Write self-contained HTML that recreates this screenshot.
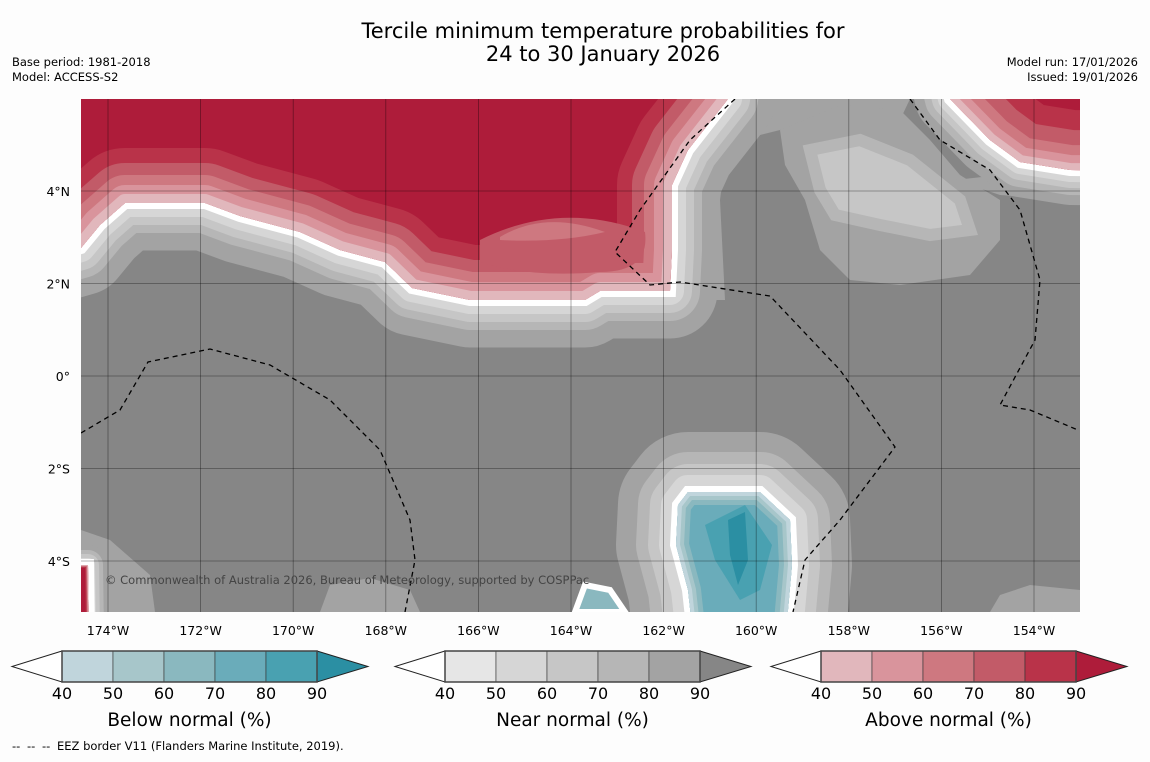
<!DOCTYPE html>
<html><head><meta charset="utf-8">
<style>
body{margin:0;background:#fdfdfd;font-family:"DejaVu Sans",sans-serif;}
svg text{font-family:"DejaVu Sans","Liberation Sans",sans-serif;}
</style></head>
<body>
<svg id="fig" width="1150" height="758" viewBox="0 0 1150 758" xmlns="http://www.w3.org/2000/svg">
<rect width="1150" height="758" fill="#fdfdfd"/>
<text x="603" y="38" font-size="21" text-anchor="middle">Tercile minimum temperature probabilities for</text>
<text x="603" y="61" font-size="21" text-anchor="middle">24 to 30 January 2026</text>
<text x="12" y="66" font-size="11.5">Base period: 1981-2018</text>
<text x="12" y="81" font-size="11.5">Model: ACCESS-S2</text>
<text x="1138" y="66" font-size="11.5" text-anchor="end">Model run: 17/01/2026</text>
<text x="1138" y="81" font-size="11.5" text-anchor="end">Issued: 19/01/2026</text>
<defs>
<clipPath id="mapclip"><rect x="81" y="99" width="999" height="513"/></clipPath>
</defs>
<g id="map" clip-path="url(#mapclip)"></g>
<g id="axes"></g>
<g id="cbars"></g>
<g font-size="11.5">
<text x="12" y="750">--</text><text x="27" y="750">--</text><text x="42" y="750">--</text>
<text x="57" y="750">EEZ border V11 (Flanders Marine Institute, 2019).</text>
</g>
</svg>
<script>
const NS="http://www.w3.org/2000/svg";
// axis data
const lonTicks=[-174,-172,-170,-168,-166,-164,-162,-160,-158,-156,-154];
const latTicks=[4,2,0,-2,-4];
const cbTicks=[40,50,60,70,80,90];
const blueColors=["#c0d5dc","#a7c6ca","#8ab8bf","#6aacba","#49a1b1","#2b8fa3"];
const grayColors=["#e6e6e6","#d6d6d6","#c6c6c6","#b6b6b6","#a3a3a3","#868686"];
const redColors=["#e1b7bc","#d9949c","#ce7880","#c25b68","#b93349","#ae1c3a"];
const cbTitles=["Below normal (%)","Near normal (%)","Above normal (%)"];
// contour geometry (map pixel space)
const redMain=[[-100,-100],[-100,300],[81,248],[100,225],[125,203],[205,203],[240,216],[300,232],[340,250],[385,262],[412,288],[470,300],[585,300],[600,291],[670,291],[672,250],[672,185],[688,150],[728,99],[760,-100]];
const redNE=[[900,-100],[950,99],[990,140],[1020,162],[1070,170],[1200,172],[1200,-100]];
const blueS=[[688,492],[760,492],[790,520],[792,565],[780,700],[700,700],[688,590],[676,545],[678,505]];
const pinkSW=[[-20,565],[88,565],[90,700],[-20,700]];
const eez=[
 [[81,433],[120,410],[148,362],[210,349],[270,365],[330,400],[380,450],[410,520],[415,560],[405,612]],
 [[735,99],[690,140],[640,210],[615,252],[650,285],[680,282],[770,296],[840,370],[895,447],[840,520],[805,560],[793,612]],
 [[910,99],[940,140],[990,170],[1020,210],[1040,280],[1035,340],[1000,405],[1030,410],[1078,430]]
];
const X=lon=>108+(lon+174)*46.3;
const Y=lat=>376-lat*46.25;
const map=document.getElementById('map');
function el(tag,attrs,parent){const e=document.createElementNS(NS,tag);for(const k in attrs)e.setAttribute(k,attrs[k]);(parent||map).appendChild(e);return e;}
const d=pts=>'M'+pts.map(p=>p.join(',')).join('L')+'Z';
const dl=pts=>'M'+pts.map(p=>p.join(',')).join('L');
let r=el('rect',{x:81,y:99,width:999,height:513,fill:'#868686'});


const patches=[
 [[700,99],[910,99],[900,120],[850,120],[800,125],[760,135],[725,160],[720,200],[725,300],[715,300],[700,260],[695,150]],
 [[780,130],[840,105],[900,110],[930,140],[960,175],[1000,200],[1000,240],[970,275],[900,285],[850,280],[820,250],[805,200],[785,165]],
 [[320,612],[330,585],[370,578],[410,590],[420,612]],
 [[990,612],[1000,595],[1030,585],[1080,590],[1080,612]],
 [[81,530],[110,540],[150,575],[155,612],[81,612]],
 [[955,180],[1000,175],[1080,190],[1080,200],[1000,195]]
];
patches.forEach(p=>{const e=el('path',{d:d(p),fill:'#a3a3a3'});

});
let lg=el('path',{d:d([[810,150],[860,140],[910,160],[960,200],[970,230],[930,235],[880,225],[835,215],[820,190]]),fill:'#c6c6c6',stroke:'#b6b6b6','stroke-width':12});


function banded(pts,outer,inner,id,widths,name){
 const g=el('g',{});
 
 
 const ow=widths.outer;
 outer.forEach((c,i)=>el('path',{d:d(pts),fill:c,stroke:c,'stroke-width':ow[i],'stroke-linejoin':'round'},g));
 el('path',{d:d(pts),fill:'#fff',stroke:'#fff','stroke-width':12,'stroke-linejoin':'miter'},g);
 const cp=el('clipPath',{id:id},g);el('path',{d:d(pts)},cp);
 const ig=el('g',{'clip-path':'url(#'+id+')'},g);
 el('path',{d:d(pts),fill:inner[5]},ig);
 const iw=widths.inner;
 for(let i=4;i>=0;i--)el('path',{d:d(pts),fill:'none',stroke:inner[i],'stroke-width':iw[4-i],'stroke-linejoin':'round'},ig);
 return ig;
}
banded(redMain,['#a3a3a3','#b6b6b6','#c6c6c6','#d6d6d6'],redColors,'c1',{outer:[95,60,44,28],inner:[110,80,56,36,18]},'above-normal-main-region');
banded(redNE,['#a3a3a3','#b6b6b6','#c6c6c6','#d6d6d6'],redColors,'c2',{outer:[70,50,36,24],inner:[120,80,50,30,14]},'above-normal-northeast-region');
el('path',{d:'M480,240 Q560,200 645,232 Q650,272 600,272 Q530,278 480,262Z',fill:'#c25b68'});
el('path',{d:'M500,237 Q545,210 605,232 Q560,243 500,240Z',fill:'#ce7880'});
const blueInner=["#c0d5dc","#a7c6ca","#8ab8bf","#6aacba","#6aacba","#6aacba"];
banded(blueS,['#a3a3a3','#b6b6b6','#c6c6c6','#d6d6d6'],blueInner,'c3',{outer:[120,80,56,34],inner:[60,40,26,16,8]},'below-normal-south-region');
el('path',{d:'M705,525 L745,505 L772,545 L760,590 L740,600 L715,560Z',fill:'#49a1b1'});
el('path',{d:'M728,520 L745,512 L748,560 L738,585 L730,555Z',fill:'#2b8fa3'});
el('path',{d:'M575,612 L585,585 L610,590 L625,612Z',fill:'#8ab8bf',stroke:'#fff','stroke-width':6});
banded(pinkSW,['#a3a3a3','#b6b6b6','#c6c6c6','#d6d6d6'],redColors,'c4',{outer:[40,30,22,14],inner:[6,4,3,2,1]},'above-normal-southwest-patch');
lonTicks.forEach(l=>{const e=el('line',{x1:X(l),x2:X(l),y1:99,y2:612,stroke:'rgba(0,0,0,0.4)','stroke-width':0.8});
});
latTicks.forEach(l=>{const e=el('line',{x1:81,x2:1080,y1:Y(l),y2:Y(l),stroke:'rgba(0,0,0,0.4)','stroke-width':0.8});
});
eez.forEach(p=>{const e=el('path',{d:dl(p),fill:'none',stroke:'#000','stroke-width':1.3,'stroke-dasharray':'5,4'});
});
const cr=el('text',{x:105,y:584,'font-size':11.5,fill:'#444'});cr.textContent='© Commonwealth of Australia 2026, Bureau of Meteorology, supported by COSPPac';

const ax=document.getElementById('axes');
lonTicks.forEach(l=>{const t=el('text',{x:X(l),y:635,'font-size':12.5,'text-anchor':'middle'},ax);t.textContent=Math.abs(l)+'°W';
});
latTicks.forEach(l=>{const t=el('text',{x:70,y:Y(l)+5,'font-size':12.5,'text-anchor':'end'},ax);t.textContent=l===0?'0°':Math.abs(l)+'°'+(l>0?'N':'S');
});
const cb=document.getElementById('cbars');
[[62,blueColors],[445,grayColors],[821,redColors]].forEach(([x0,cols],k)=>{
 const g=el('g',{},cb);
 
 
 const w=51,y0=651,h=31;
 el('path',{d:`M${x0},${y0}L${x0-50},${y0+h/2}L${x0},${y0+h}Z`,fill:'#fff',stroke:'#222','stroke-width':1},g);
 for(let i=0;i<5;i++)el('rect',{x:x0+i*w,y:y0,width:w,height:h,fill:cols[i],stroke:'#333','stroke-width':0.6},g);
 el('path',{d:`M${x0+5*w},${y0}L${x0+5*w+51},${y0+h/2}L${x0+5*w},${y0+h}Z`,fill:cols[5],stroke:'#222','stroke-width':1},g);
 el('rect',{x:x0,y:y0,width:5*w,height:h,fill:'none',stroke:'#444','stroke-width':1.5},g);
 cbTicks.forEach((v,i)=>{const t=el('text',{x:x0+i*w,y:699,'font-size':16,'text-anchor':'middle'},g);t.textContent=v;});
 const tt=el('text',{x:x0+2.5*w,y:726,'font-size':18.5,'text-anchor':'middle'},g);tt.textContent=cbTitles[k];
});
</script>
</body></html>
